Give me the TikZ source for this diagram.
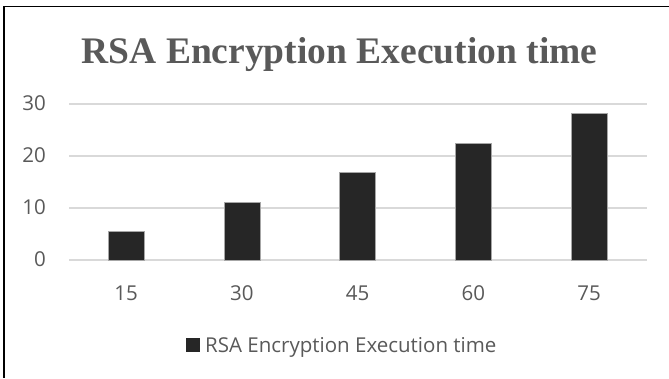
\documentclass[tikz,border=0pt]{standalone}
\usepackage{fontspec}
\setmainfont{Liberation Serif}
\newfontfamily\chartfont{Open Sans}
\usetikzlibrary{positioning}
\definecolor{txtgrey}{HTML}{595959}
\definecolor{gridgrey}{HTML}{D9D9D9}
\definecolor{barblack}{HTML}{262626}

\begin{document}
\begin{tikzpicture}[x=1pt, y=-1pt,
    bar/.style={fill=barblack, draw=gray!70, line width=0.5pt},
    gridline/.style={gridgrey, line width=1.2pt},
    lbl/.style={inner sep=0pt, text=txtgrey, font=\chartfont\fontsize{20.5}{25}\selectfont}]
            \useasboundingbox (0,0) rectangle (669,378);
            \draw[black, line width=1.6pt] (669,6.5) -- (4,6.5) -- (4,378);

            \node[anchor=base, inner sep=0pt, text=txtgrey, font=\fontsize{37.5}{45}\selectfont\bfseries] (title) at (339.5,63) {RSA Encryption Execution time};

            % gridlines and y labels
            \foreach \t in {0,10,20,30} {
                \draw[gridline] (69,260-5.2*\t) -- (647,260-5.2*\t);
                \node[lbl, anchor=base east] (y\t) at (46,266.7-5.2*\t) {\t};
            }

            % bars and x labels
            \foreach \c/\v [count=\i from 0] in {15/5.6,30/11.2,45/16.9,60/22.5,75/28.3} {
                \pgfmathsetmacro{\xc}{126+115.75*\i}
                \draw[bar] (\xc-18,260) rectangle (\xc+18,260-5.2*\v);
                \node[lbl, anchor=base] (x\c) at (\xc,300) {\c};
            }

            % legend
            \node[fill=barblack, minimum size=14pt, inner sep=0pt] (key) at (192.5,345) {};
            \node[lbl, anchor=base west] (keytext) at (205,352) {RSA Encryption Execution time};
        \end{tikzpicture}
\end{document}
